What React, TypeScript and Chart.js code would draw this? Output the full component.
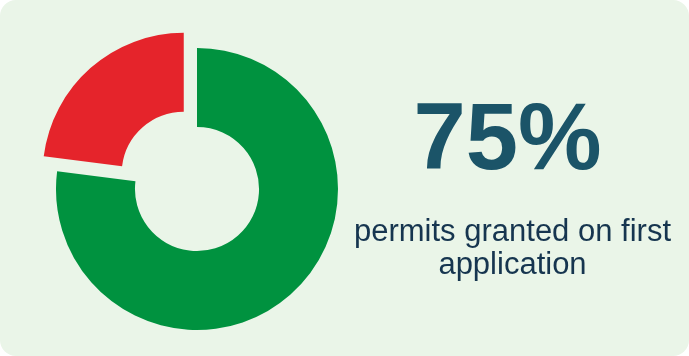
import React, { useEffect, useRef } from "react";
import { Chart, registerables } from "chart.js";

Chart.register(...registerables);

const categories = ["Granted on first application", "Not granted on first application"];
const values = [77, 23];
const colors = ["#00923f", "#e5242b"];
// Chart.js arcs translate by offset / 4 pixels
const offsets = [0, 80];
const headline = "75%";
const captionLines = ["permits granted on first", "application"];

export default function App() {
  const canvasRef = useRef<HTMLCanvasElement | null>(null);

  useEffect(() => {
    document.body.style.margin = "0";
    const canvas = canvasRef.current;
    if (!canvas) return;
    const chart = new Chart(canvas, {
      type: "doughnut",
      data: {
        labels: categories,
        datasets: [
          {
            data: values,
            backgroundColor: colors,
            borderWidth: 0,
            offset: offsets,
            hoverOffset: 0,
          },
        ],
      },
      options: {
        responsive: false,
        animation: false,
        radius: 141,
        cutout: "44%",
        layout: { padding: 0 },
        plugins: {
          legend: { display: false },
          tooltip: { enabled: false },
        },
        events: [],
      },
    });
    return () => chart.destroy();
  }, []);

  return (
    <div
      style={{
        position: "fixed",
        left: 0,
        top: 0,
        width: 689,
        height: 356,
        background: "#ffffff",
      }}
    >
      <div
        style={{
          position: "absolute",
          left: 0,
          top: 0,
          width: 689,
          height: 356,
          borderRadius: 16,
          background: "#eaf5e8",
          overflow: "hidden",
        }}
      >
        <canvas
          ref={canvasRef}
          width={340}
          height={340}
          style={{ position: "absolute", left: 27, top: 19, width: 340, height: 340 }}
        />
        <div
          style={{
            position: "absolute",
            left: 340,
            top: 90,
            width: 335,
            textAlign: "center",
            fontFamily: "'Liberation Sans', Arial, sans-serif",
            fontWeight: 700,
            fontSize: 94,
            lineHeight: "94px",
            color: "#1b5468",
          }}
        >
          {headline}
        </div>
        <div
          style={{
            position: "absolute",
            left: 345,
            top: 214,
            width: 335,
            textAlign: "center",
            fontFamily: "'Liberation Sans', Arial, sans-serif",
            fontSize: 31,
            lineHeight: "33px",
            color: "#16354f",
          }}
        >
          {captionLines.map((l, i) => (
            <div key={i}>{l}</div>
          ))}
        </div>
      </div>
    </div>
  );
}
